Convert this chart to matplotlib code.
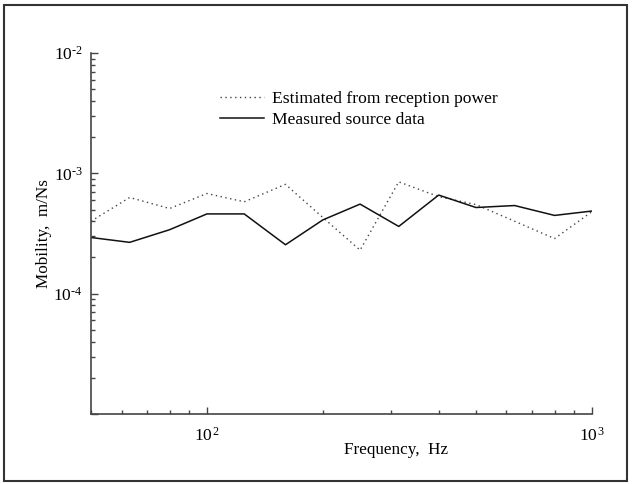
import math
import matplotlib
matplotlib.use("Agg")
import matplotlib.pyplot as plt
from matplotlib.ticker import FuncFormatter, LogLocator, NullFormatter
from matplotlib.patches import Rectangle

# third-octave band centres, Hz
frecuencias = [50, 63, 80, 100, 125, 160, 200, 250, 315, 400, 500, 630, 800, 1000]
estimada = [4.0e-4, 6.3e-4, 5.1e-4, 6.8e-4, 5.8e-4, 8.1e-4, 4.3e-4, 2.3e-4,
            8.5e-4, 6.4e-4, 5.5e-4, 4.0e-4, 2.87e-4, 4.8e-4]
medida = [2.93e-4, 2.67e-4, 3.4e-4, 4.6e-4, 4.6e-4, 2.55e-4, 4.1e-4, 5.55e-4,
          3.62e-4, 6.6e-4, 5.2e-4, 5.4e-4, 4.47e-4, 4.86e-4]

plt.rcParams["font.family"] = ["Liberation Serif", "DejaVu Serif"]
plt.rcParams["mathtext.fontset"] = "custom"
plt.rcParams["mathtext.rm"] = "Liberation Serif"
plt.rcParams["mathtext.it"] = "Liberation Serif:italic"
plt.rcParams["mathtext.default"] = "rm"

fig = plt.figure(figsize=(6.33, 4.84), dpi=100)
ax = fig.add_axes([0.1438, 0.1446, 0.935 - 0.1438, 0.8905 - 0.1446])

gris = "#444444"
ax.plot(frecuencias, estimada, linestyle=(0, (1, 2.5)), color="#444444", lw=1.0,
        label="Estimated from reception power")
ax.plot(frecuencias, medida, linestyle="-", color="#111111", lw=1.1,
        label="Measured source data")

ax.set_xscale("log")
ax.set_yscale("log")
ax.set_xlim(50, 1000)
ax.set_ylim(1e-5, 1e-2)

def etiqueta(v, pos):
    e = int(round(math.log10(v)))
    if e == -5:
        return ""
    if e < 0:
        return r"$10^{" + "\u2010" + str(-e) + "}$"
    return r"$10^{\,%d}$" % e

ax.xaxis.set_major_locator(LogLocator(base=10))
ax.yaxis.set_major_locator(LogLocator(base=10))
ax.xaxis.set_major_formatter(FuncFormatter(etiqueta))
ax.yaxis.set_major_formatter(FuncFormatter(etiqueta))
ax.xaxis.set_minor_formatter(NullFormatter())
ax.yaxis.set_minor_formatter(NullFormatter())

ax.tick_params(which="major", direction="in", length=5, width=1, colors=gris,
               labelcolor="black", labelsize=12.5, pad=6)
ax.tick_params(axis="x", which="major", pad=9)
ax.tick_params(which="minor", direction="in", length=3, width=1, colors=gris)

ax.spines["top"].set_visible(False)
ax.spines["right"].set_visible(False)
for s in ["left", "bottom"]:
    ax.spines[s].set_color(gris)
    ax.spines[s].set_linewidth(1.2)

ax.set_xlabel("Frequency,  Hz", fontsize=12.3)
ax.set_ylabel("Mobility,  m/Ns", fontsize=12.3)
ax.xaxis.set_label_coords(0.609, -0.078)
ax.yaxis.set_label_coords(-0.077, 0.5)

ax.legend(loc="upper left", bbox_to_anchor=(0.226, 0.94), frameon=False,
          fontsize=12.6, handlelength=2.5, handletextpad=0.5, labelspacing=0.3)

fig.patches.append(Rectangle((0.006, 0.006), 0.985, 0.983, transform=fig.transFigure,
                             fill=False, edgecolor="#333333", lw=1.5))

fig.savefig("out.png", dpi=100)
